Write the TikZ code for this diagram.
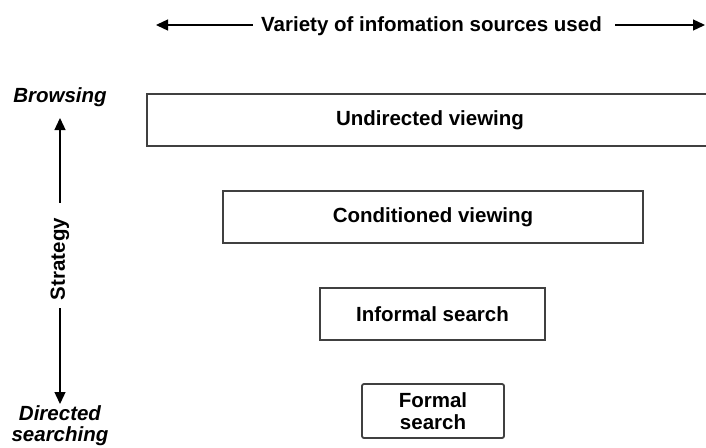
\documentclass[tikz,border=0pt]{standalone}
\usepackage{fontspec}
\setmainfont{Liberation Sans}
\usetikzlibrary{arrows.meta}
\begin{document}
\begin{tikzpicture}[x=1pt,y=-1pt,
  lvl/.style={draw=black!75,line width=1.8pt,fill=white,inner sep=0pt,font=\fontsize{20.5}{22}\selectfont\bfseries,align=center},
  lbl/.style={font=\fontsize{20.5}{23}\selectfont\bfseries,inner sep=0pt},
  ilbl/.style={font=\fontsize{20.5}{21}\selectfont\bfseries\itshape,inner sep=0pt,align=center},
  axis/.style={line width=1.3pt,-{Triangle[length=12pt,width=11pt]}}]
\useasboundingbox (0,0) rectangle (706,447);
% boxes
\node[lvl,minimum width=566pt,minimum height=52pt] (und) at (430,120) {Undirected viewing};
\node[lvl,minimum width=420pt,minimum height=52pt] (cond) at (433,217) {Conditioned viewing};
\node[lvl,minimum width=225pt,minimum height=52pt] (inf) at (432.5,314) {Informal search};
\node[lvl,minimum width=142pt,minimum height=54pt,rounded corners=2pt] (form) at (433,411) {Formal\\search};
% top axis
\node[lbl] (var) at (431.5,26) {Variety of infomation sources used};
\coordinate (vl) at (156,25);
\coordinate (vr) at (705,25);
\draw[axis] ([xshift=-8pt,yshift=1pt]var.west) -- (vl);
\draw[axis] ([xshift=13pt,yshift=1pt]var.east) -- (vr);
% left axis
\node[lbl,rotate=90] (strat) at (60,259) {Strategy};
\node[ilbl] (brow) at (60,97) {Browsing};
\node[ilbl] (dir) at (60,426) {Directed\\searching};
\coordinate (st) at (60,118);
\coordinate (sb) at (60,404);
\draw[axis] ([yshift=15pt]strat.east) -- (st);
\draw[axis] ([yshift=-8pt]strat.west) -- (sb);
\end{tikzpicture}
\end{document}
